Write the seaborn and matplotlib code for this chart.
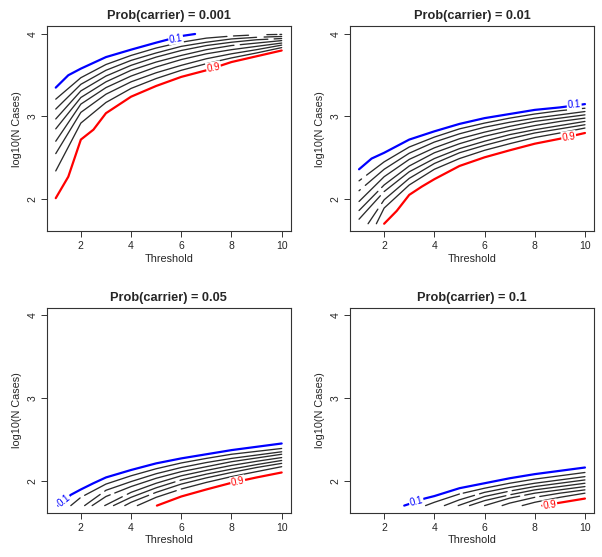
import matplotlib
matplotlib.use("Agg")
import matplotlib.pyplot as plt
import numpy as np
import pandas as pd
import seaborn as sns

levels = ["0.1", "0.2", "0.3", "0.4", "0.5", "0.6", "0.7", "0.8", "0.9"]
titles = ["Prob(carrier) = 0.001", "Prob(carrier) = 0.01",
          "Prob(carrier) = 0.05", "Prob(carrier) = 0.1"]
xgrid = [1, 2, 3, 4, 5, 6, 7, 8, 9, 10]

# contour lines, one x list and one y list per level
p1_x = [[1, 1.5, 2, 3, 4, 5, 6, 6.55],
        xgrid, xgrid, xgrid, xgrid, xgrid, xgrid, xgrid,
        [1, 1.5, 2, 2.5, 3, 4, 5, 6, 7, 8, 9, 10]]
p1_y = [[3.35, 3.50, 3.58, 3.72, 3.81, 3.895, 3.975, 4.0],
        [3.21, 3.47, 3.63, 3.74, 3.83, 3.90, 3.95, 3.975, 3.99, 3.995],
        [3.09, 3.39, 3.56, 3.68, 3.77, 3.85, 3.90, 3.94, 3.96, 3.97],
        [2.97, 3.31, 3.49, 3.62, 3.72, 3.80, 3.86, 3.90, 3.93, 3.945],
        [2.85, 3.23, 3.42, 3.56, 3.66, 3.74, 3.81, 3.86, 3.89, 3.92],
        [2.70, 3.15, 3.35, 3.49, 3.60, 3.69, 3.76, 3.81, 3.85, 3.89],
        [2.55, 3.05, 3.27, 3.42, 3.53, 3.62, 3.70, 3.76, 3.81, 3.865],
        [2.34, 2.92, 3.17, 3.34, 3.46, 3.56, 3.64, 3.71, 3.77, 3.835],
        [2.01, 2.27, 2.72, 2.84, 3.04, 3.24, 3.37, 3.48, 3.56, 3.66, 3.73, 3.80]]

p2_x = [[1, 1.5, 2, 3, 4, 5, 6, 7, 8, 9, 10],
        xgrid, xgrid, xgrid, xgrid, xgrid,
        [1.36, 2, 3, 4, 5, 6, 7, 8, 9, 10],
        [1.69, 2, 3, 4, 5, 6, 7, 8, 9, 10],
        [2, 2.5, 3, 3.5, 4, 5, 6, 7, 8, 9, 10]]
p2_y = [[2.36, 2.49, 2.56, 2.72, 2.82, 2.91, 2.98, 3.03, 3.08, 3.11, 3.15],
        [2.22, 2.45, 2.63, 2.75, 2.85, 2.92, 2.98, 3.03, 3.07, 3.10],
        [2.10, 2.36, 2.555, 2.69, 2.79, 2.87, 2.93, 2.98, 3.02, 3.06],
        [1.97, 2.27, 2.48, 2.62, 2.73, 2.81, 2.88, 2.94, 2.98, 3.02],
        [1.86, 2.17, 2.40, 2.56, 2.67, 2.76, 2.83, 2.89, 2.94, 2.98],
        [1.755, 2.09, 2.33, 2.49, 2.61, 2.70, 2.78, 2.84, 2.89, 2.94],
        [1.70, 1.99, 2.25, 2.43, 2.56, 2.65, 2.73, 2.80, 2.85, 2.90],
        [1.70, 1.89, 2.17, 2.36, 2.49, 2.59, 2.67, 2.745, 2.80, 2.86],
        [1.70, 1.855, 2.05, 2.15, 2.24, 2.40, 2.505, 2.59, 2.67, 2.73, 2.80]]

p3_x = [[1.1, 1.6, 2, 2.5, 3, 4, 5, 6, 7, 8, 9, 10],
        [1.6, 2, 3, 4, 5, 6, 7, 8, 9, 10],
        [2.15, 3, 4, 5, 6, 7, 8, 9, 10],
        [2.45, 3, 4, 5, 6, 7, 8, 9, 10],
        [2.95, 4, 5, 6, 7, 8, 9, 10],
        [3.3, 4, 5, 6, 7, 8, 9, 10],
        [3.75, 4, 5, 6, 7, 8, 9, 10],
        [4.25, 5, 6, 7, 8, 9, 10],
        [5.03, 6, 7, 8, 9, 10]]
p3_y = [[1.70, 1.83, 1.895, 1.97, 2.04, 2.13, 2.21, 2.27, 2.32, 2.37, 2.41, 2.45],
        [1.70, 1.80, 1.96, 2.06, 2.145, 2.215, 2.27, 2.32, 2.355, 2.39],
        [1.70, 1.885, 1.99, 2.085, 2.16, 2.22, 2.27, 2.31, 2.35],
        [1.70, 1.81, 1.93, 2.03, 2.11, 2.17, 2.23, 2.275, 2.32],
        [1.70, 1.86, 1.97, 2.06, 2.125, 2.185, 2.235, 2.28],
        [1.70, 1.80, 1.915, 2.01, 2.08, 2.14, 2.195, 2.245],
        [1.70, 1.74, 1.86, 1.96, 2.035, 2.10, 2.16, 2.21],
        [1.70, 1.80, 1.90, 1.98, 2.05, 2.11, 2.17],
        [1.70, 1.81, 1.895, 1.975, 2.04, 2.10]]

p4_x = [[2.8, 3, 3.62, 4, 5, 6, 7, 8, 9, 10],
        [3.65, 4, 5, 6, 7, 8, 9, 10],
        [4.4, 5, 6, 7, 8, 9, 10],
        [4.95, 6, 7, 8, 9, 10],
        [5.4, 6, 7, 8, 9, 10],
        [6.0, 7, 8, 9, 10],
        [6.7, 7, 8, 9, 10],
        [7.5, 8, 9, 10],
        [8.3, 9, 10]]
p4_y = [[1.70, 1.72, 1.786, 1.815, 1.91, 1.97, 2.03, 2.08, 2.12, 2.16],
        [1.70, 1.74, 1.84, 1.91, 1.97, 2.02, 2.06, 2.10],
        [1.70, 1.77, 1.86, 1.92, 1.97, 2.01, 2.05],
        [1.70, 1.81, 1.875, 1.93, 1.97, 2.01],
        [1.70, 1.76, 1.83, 1.89, 1.93, 1.97],
        [1.70, 1.79, 1.85, 1.89, 1.93],
        [1.70, 1.73, 1.80, 1.85, 1.89],
        [1.70, 1.74, 1.80, 1.85],
        [1.70, 1.735, 1.785]]

# blank label gaps left in the unlabelled contours: (level index, x from, x to)
p1_gaps = [(1, 7.82, 8.08), (1, 8.68, 9.41), (1, 9.81, 9.93),
           (2, 9.0, 9.3), (3, 9.45, 9.7), (4, 8.1, 8.35)]
p2_gaps = [(1, 1.1, 1.3), (2, 1.05, 1.25), (4, 1.75, 1.9),
           (5, 1.85, 2.0), (6, 1.75, 1.9)]
p3_gaps = [(1, 1.97, 2.15), (2, 2.77, 2.95), (3, 3.17, 3.35), (4, 3.65, 3.85),
           (5, 5.75, 5.95), (6, 4.7, 4.9), (7, 5.8, 6.0)]
p4_gaps = [(1, 5.0, 5.15), (2, 5.6, 5.8), (3, 6.9, 7.1), (4, 6.85, 7.05),
           (5, 7.4, 7.6), (6, 8.0, 8.2)]

# inline labels for the 0.1 and 0.9 contours: (x, y, rotation)
lab_01 = [(5.78, 3.945, 9), (9.57, 3.14, 4), (1.32, 1.76, 38), (3.28, 1.75, 14)]
lab_09 = [(7.28, 3.595, 11), (9.35, 2.755, 8), (8.25, 1.99, 12), (8.6, 1.705, 8)]

panels_x = [p1_x, p2_x, p3_x, p4_x]
panels_y = [p1_y, p2_y, p3_y, p4_y]
panels_gaps = [p1_gaps, p2_gaps, p3_gaps, p4_gaps]

palette = {lv: "#2b2b2b" for lv in levels}
palette["0.1"] = "#0000ff"
palette["0.9"] = "#ff0000"
widths = {lv: 0.95 for lv in levels}
widths["0.1"] = 1.6
widths["0.9"] = 1.6


def split_line(xs, ys, gaps):
    # cut the polyline at the label gaps, keeping the read points in between
    xs = np.asarray(xs, float)
    ys = np.asarray(ys, float)
    bounds = []
    start = xs[0]
    for g0, g1 in sorted(gaps):
        bounds.append((start, g0))
        start = g1
    bounds.append((start, xs[-1]))
    out = []
    for a, b in bounds:
        inner = xs[(xs > a) & (xs < b)]
        px = np.concatenate([[a], inner, [b]])
        out.append((px, np.interp(px, xs, ys)))
    return out


sns.set_style("ticks")
plt.rcParams["font.family"] = ["Liberation Sans", "DejaVu Sans"]

fig = plt.figure(figsize=(6.02, 5.57), dpi=100)
positions = [[0.0776, 0.5847, 0.4053, 0.3679],
             [0.5814, 0.5847, 0.4053, 0.3679],
             [0.0776, 0.0786, 0.4053, 0.3693],
             [0.5814, 0.0786, 0.4053, 0.3693]]

for i in range(4):
    ax = fig.add_axes(positions[i])
    rows = []
    for j, (lv, xs, ys) in enumerate(zip(levels, panels_x[i], panels_y[i])):
        gaps = [(g0, g1) for k, g0, g1 in panels_gaps[i] if k == j]
        for p, (px, py) in enumerate(split_line(xs, ys, gaps)):
            for x, y in zip(px, py):
                rows.append({"level": lv, "piece": f"{lv}-{p}",
                             "Threshold": x, "log10n": y})
    df = pd.DataFrame(rows)
    sns.lineplot(data=df, x="Threshold", y="log10n", hue="level", size="level",
                 units="piece", palette=palette, sizes=widths,
                 hue_order=levels, size_order=levels,
                 estimator=None, sort=False, legend=False, ax=ax)

    for (tx, ty, rot), txt, col in [(lab_01[i], "0.1", "#0000ff"), (lab_09[i], "0.9", "#ff0000")]:
        ax.text(tx, ty, txt, color=col, fontsize=7, rotation=rot,
                rotation_mode="anchor", ha="center", va="center", zorder=5,
                bbox=dict(boxstyle="square,pad=0.08", fc="white", ec="none"))

    ax.set_xlim(0.64, 10.36)
    ax.set_ylim(1.608, 4.092)
    ax.set_xticks([2, 4, 6, 8, 10])
    ax.set_yticks([2, 3, 4])
    ax.set_title(titles[i], fontsize=9.2, fontweight="bold", pad=5)
    ax.set_xlabel("Threshold", fontsize=7.8, labelpad=2)
    ax.set_ylabel("log10(N Cases)", fontsize=7.8, labelpad=4)
    ax.tick_params(direction="out", length=4.3, width=0.7, color="#333333",
                   labelsize=7.5, pad=2.5)
    for lab in ax.get_yticklabels():
        lab.set_rotation(90)
        lab.set_va("center")
    for sp in ax.spines.values():
        sp.set_visible(True)
        sp.set_color("#333333")
        sp.set_linewidth(0.8)

fig.savefig("out.png", dpi=100, facecolor="white")
